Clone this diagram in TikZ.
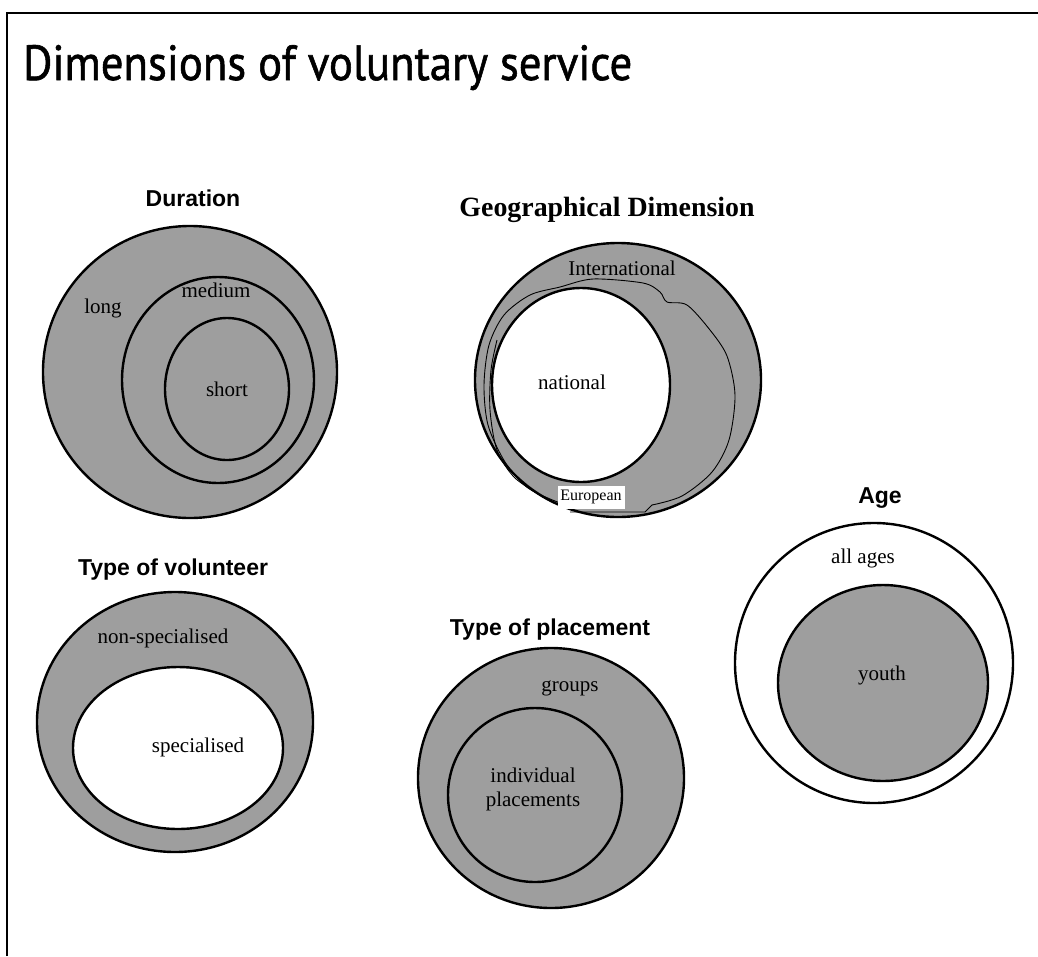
\documentclass[tikz,border=0pt]{standalone}
\usepackage{fontspec}
\setmainfont{Liberation Serif}
\newfontfamily\titlefont[FakeBold=1.2]{PT Sans}
\newfontfamily\headfont{Liberation Sans}
\definecolor{fillgray}{RGB}{158,158,158}
\begin{document}
\begin{tikzpicture}[x=1pt,y=-1pt,
  ring/.style={draw=black, line width=2.4pt, fill=fillgray},
  hole/.style={draw=black, line width=2.4pt, fill=white},
  thinline/.style={draw=black, line width=0.9pt},
  lbl/.style={font=\fontsize{21}{24}\selectfont, inner sep=0pt, align=center},
  head/.style={font=\headfont\bfseries\fontsize{23}{26}\selectfont, inner sep=0pt}]
\useasboundingbox (0,0) rectangle (1038,956);
\fill[white] (0,0) rectangle (1038,956);
% frame
\draw[line width=1.4pt] (7,956) -- (7,13) -- (1038,13);
% title
\node[anchor=base west, inner sep=0pt] (title) at (23,80)
  {\resizebox{609pt}{35pt}{\titlefont\fontsize{40}{40}\selectfont Dimensions of voluntary service}};

% Duration
\node[head] (hdur) at (193,198) {Duration};
\draw[ring] (190,372) ellipse [x radius=147pt, y radius=146pt];
\draw[ring] (218,380) ellipse [x radius=96pt, y radius=103pt];
\draw[ring] (227,389) ellipse [x radius=62pt, y radius=71pt];
\node[lbl] (long) at (103,308) {long};
\node[lbl] (medium) at (216,290) {medium};
\node[lbl] (short) at (227,389) {short};

% Geographical dimension
\node[inner sep=0pt] (hgeo) at (607,210)
  {\resizebox{295pt}{!}{\bfseries\fontsize{22}{24}\selectfont Geographical Dimension}};
\draw[ring] (618,380) ellipse [x radius=143pt, y radius=137pt];
\draw[thinline] plot[smooth, tension=0.5] coordinates {(560,503) (528,488) (505,462) (488,425) (484,385) (489,345) (504,315) (530,295) (560,287) (593,279) (643,283) (660,292) (667,302) (687,305) (710,330) (727,356) (735,395) (729,440) (712,472) (682,496) (652,505)};
\draw[thinline] (652,505) -- (645,512) -- (570,512);
\draw[thinline] plot[smooth, tension=0.5] coordinates {(548,500) (515,478) (497,450) (490,410) (491,370) (497,340)};
\draw[hole] (581,385) ellipse [x radius=89pt, y radius=97pt];
\node[fill=white, minimum width=67pt, minimum height=23pt, inner sep=0pt,
  font=\fontsize{16}{18}\selectfont] (eur) at (591,497) {European};
\node[lbl] (intl) at (622,268) {International};
\node[lbl] (natl) at (572,382) {national};

% Type of volunteer
\node[head] (hvol) at (173,570) {Type of volunteer};
\draw[ring] (175,722) ellipse [x radius=138pt, y radius=130pt];
\draw[hole] (178,748) ellipse [x radius=105pt, y radius=81pt];
\node[lbl] (nonspec) at (163,638) {non-specialised};
\node[lbl] (spec) at (198,747) {specialised};

% Type of placement
\node[head] (hpla) at (550,630) {Type of placement};
\draw[ring] (551,778) ellipse [x radius=133pt, y radius=130pt];
\draw[ring] (535,795) ellipse [x radius=87pt, y radius=87pt];
\node[lbl] (groups) at (570,688) {groups};
\node[lbl] (indiv) at (533,789) {individual\\placements};

% Age
\node[head] (hage) at (880,498) {Age};
\draw[hole] (874,663) ellipse [x radius=139pt, y radius=140pt];
\draw[ring] (883,683) ellipse [x radius=105pt, y radius=98pt];
\node[lbl] (allages) at (863,558) {all ages};
\node[lbl] (youth) at (882,675) {youth};
\end{tikzpicture}
\end{document}
